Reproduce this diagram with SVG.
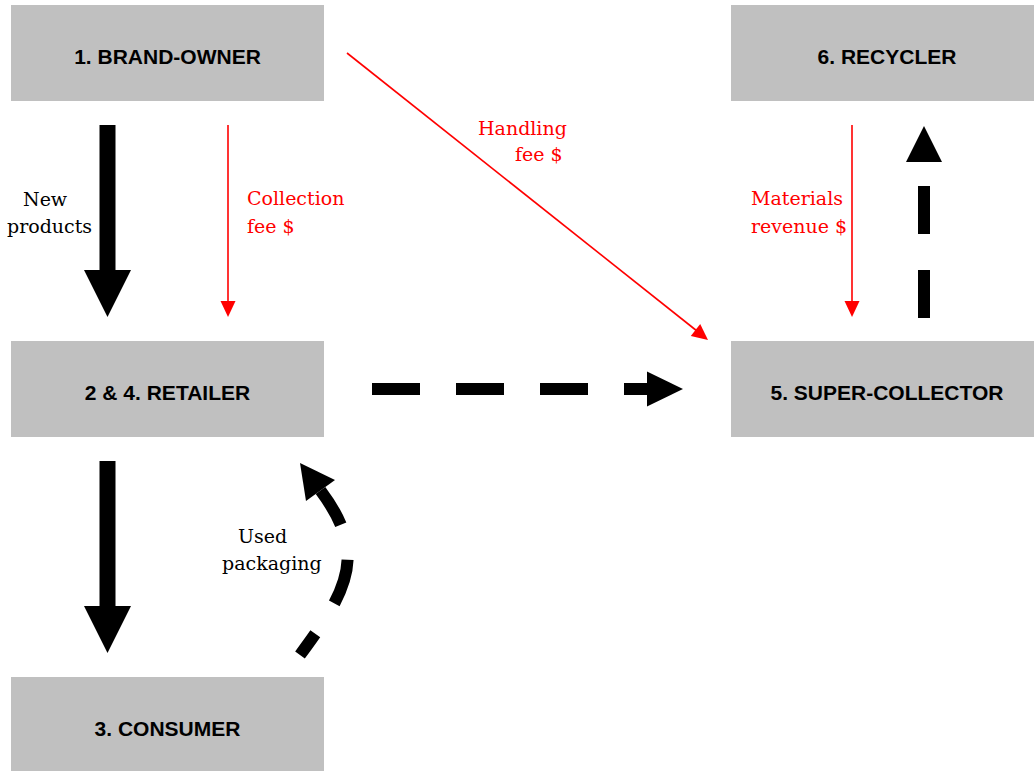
<svg xmlns="http://www.w3.org/2000/svg" width="1034" height="771" viewBox="0 0 1034 771">
  <style>
    .box { fill: #c0c0c0; }
    .title { font-family: "Liberation Sans", Arial, sans-serif; font-weight: bold; font-size: 21px; fill: #000; text-anchor: middle; }
    .lbl { font-family: "DejaVu Serif", "Liberation Serif", serif; font-size: 19px; fill: #000; }
    .red { fill: #ff0000; }
    .redline { stroke: #ff0000; stroke-width: 1.6; fill: none; }
    .dash { stroke: #000; stroke-width: 12; fill: none; stroke-dasharray: 48 36; }
  </style>
  <rect width="1034" height="771" fill="#ffffff"/>

  <g id="node-brand-owner">
    <rect class="box" x="11" y="5" width="313" height="96"/>
    <text class="title" x="167.5" y="64">1. BRAND-OWNER</text>
  </g>
  <g id="node-recycler">
    <rect class="box" x="731" y="5" width="313" height="96"/>
    <text class="title" x="887" y="64">6. RECYCLER</text>
  </g>
  <g id="node-retailer">
    <rect class="box" x="11" y="341" width="313" height="96"/>
    <text class="title" x="167.5" y="400">2 &amp; 4. RETAILER</text>
  </g>
  <g id="node-super-collector">
    <rect class="box" x="731" y="341" width="313" height="96"/>
    <text class="title" x="887" y="400">5. SUPER-COLLECTOR</text>
  </g>
  <g id="node-consumer">
    <rect class="box" x="11" y="677" width="313" height="96"/>
    <text class="title" x="167.5" y="736">3. CONSUMER</text>
  </g>

  <g id="connectors">
    <!-- New products: brand-owner to retailer -->
    <polygon points="99.5,125 115.5,125 115.5,270 131,270 107.5,317 84,270 99.5,270" fill="#000"/>
    <!-- retailer to consumer -->
    <polygon points="99.5,461 115.5,461 115.5,606 131,606 107.5,653 84,606 99.5,606" fill="#000"/>
    <!-- Collection fee -->
    <line class="redline" x1="228" y1="125" x2="228" y2="303"/>
    <polygon class="red" points="220.5,301 235.5,301 228,317"/>
    <!-- Handling fee -->
    <line class="redline" x1="347" y1="53" x2="697" y2="331"/>
    <polygon class="red" points="690.8,335.9 700.2,324.1 708,340"/>
    <!-- Materials revenue -->
    <line class="redline" x1="852" y1="125" x2="852" y2="303"/>
    <polygon class="red" points="844.5,301 859.5,301 852,317"/>
    <!-- retailer to super-collector dashed -->
    <line class="dash" x1="372" y1="389" x2="648" y2="389"/>
    <polygon points="647,371.5 683,389 647,406.5" fill="#000"/>
    <!-- super-collector to recycler dashed -->
    <line class="dash" x1="924" y1="318" x2="924" y2="162"/>
    <polygon points="906,162 942,162 924,126" fill="#000"/>
    <!-- Used packaging: consumer to retailer curved dashed -->
    <path d="M 300,655 C 348,590 368,554 320.5,490.5" stroke="#000" stroke-width="12" fill="none" stroke-dasharray="26 36 46 36 80"/>
    <polygon points="306,501 335,480 300,463" fill="#000"/>
  </g>

  <g id="labels">
    <text class="lbl" x="23" y="206">New</text>
    <text class="lbl" x="7" y="233">products</text>
    <text class="lbl red" x="247" y="205">Collection</text>
    <text class="lbl red" x="247" y="233">fee $</text>
    <text class="lbl red" x="478" y="135">Handling</text>
    <text class="lbl red" x="515" y="161">fee $</text>
    <text class="lbl red" x="751" y="205">Materials</text>
    <text class="lbl red" x="751" y="233">revenue $</text>
    <text class="lbl" x="238" y="543">Used</text>
    <text class="lbl" x="222" y="570">packaging</text>
  </g>
</svg>
